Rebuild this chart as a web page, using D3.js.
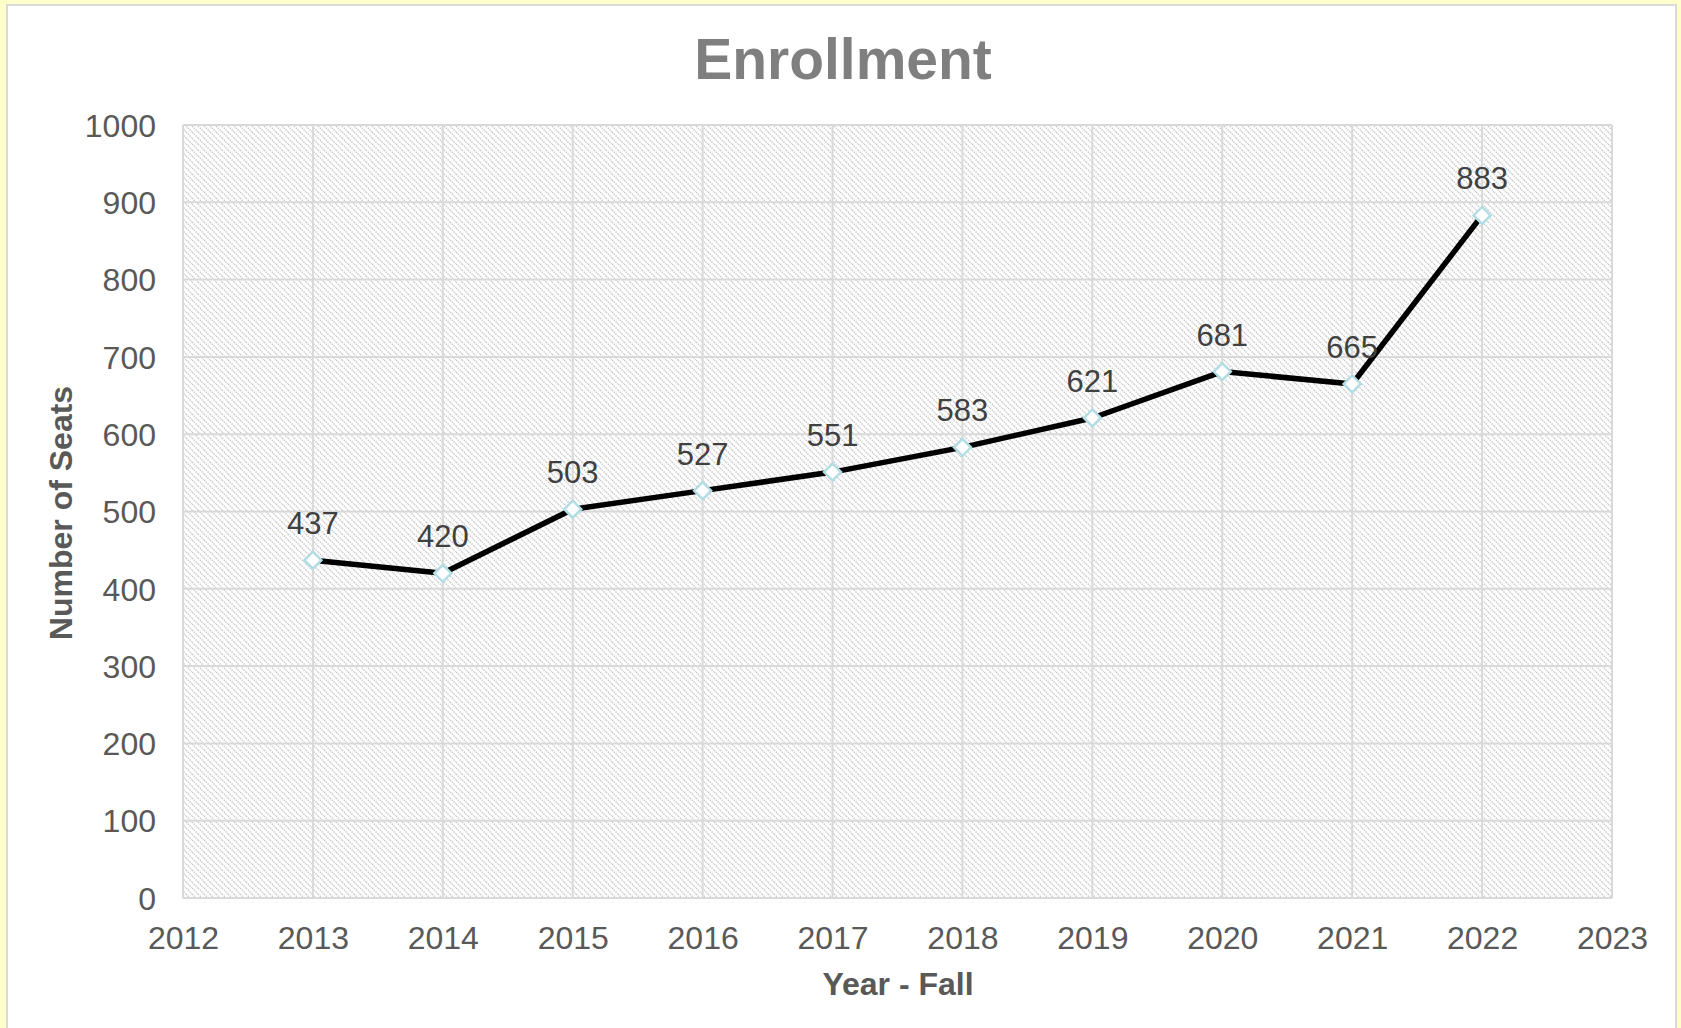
<!DOCTYPE html>
<html>
<head>
<meta charset="utf-8">
<script src="https://cdn.jsdelivr.net/npm/d3@7"></script>
<style>
  html, body { margin: 0; padding: 0; background: #ffffcc; overflow: hidden; }
  text { font-family: "Liberation Sans", Arial, sans-serif; }
</style>
</head>
<body>
<div id="container"></div>
<script>
var years = [2013, 2014, 2015, 2016, 2017, 2018, 2019, 2020, 2021, 2022];
var seats = [437, 420, 503, 527, 551, 583, 621, 681, 665, 883];
var xTicks = [2012, 2013, 2014, 2015, 2016, 2017, 2018, 2019, 2020, 2021, 2022, 2023];
var yTicks = [0, 100, 200, 300, 400, 500, 600, 700, 800, 900, 1000];

var width = 1681, height = 1028;
var margin = {left: 183, right: 69, top: 125, bottom: 130};

var svg = d3.select("#container").append("svg")
    .attr("width", width)
    .attr("height", height);

// hatch pattern for plot area
var defs = svg.append("defs");
var pat = defs.append("pattern")
    .attr("id", "hatch")
    .attr("patternUnits", "userSpaceOnUse")
    .attr("width", 6)
    .attr("height", 6);
pat.append("rect").attr("width", 6).attr("height", 6).attr("fill", "#ffffff");
pat.append("path")
    .attr("d", "M0,0 L6,6 M-1,5 L1,7 M5,-1 L7,1")
    .attr("stroke", "#c8c8c8")
    .attr("stroke-width", 1.4)
    .attr("stroke-dasharray", "1.5,1");

// chart box
svg.append("rect")
    .attr("x", 7).attr("y", 5)
    .attr("width", 1669).attr("height", 1040)
    .attr("fill", "#ffffff")
    .attr("stroke", "#d9d9d9")
    .attr("stroke-width", 2);

var x = d3.scaleLinear().domain([2012, 2023]).range([margin.left, width - margin.right]);
var y = d3.scaleLinear().domain([0, 1000]).range([height - margin.bottom, margin.top]);

svg.append("rect")
    .attr("x", x(2012)).attr("y", y(1000))
    .attr("width", x(2023) - x(2012))
    .attr("height", y(0) - y(1000))
    .attr("fill", "url(#hatch)");

// grid
svg.append("g").selectAll("line")
    .data(yTicks)
    .enter().append("line")
    .attr("x1", x(2012)).attr("x2", x(2023))
    .attr("y1", function(d) { return y(d); })
    .attr("y2", function(d) { return y(d); })
    .attr("stroke", "#d9d9d9")
    .attr("stroke-width", 2);

svg.append("g").selectAll("line")
    .data(xTicks)
    .enter().append("line")
    .attr("x1", function(d) { return x(d); })
    .attr("x2", function(d) { return x(d); })
    .attr("y1", y(0)).attr("y2", y(1000))
    .attr("stroke", "#d9d9d9")
    .attr("stroke-width", 2);

// axes
var yAxis = svg.append("g")
    .attr("transform", "translate(" + (x(2012) - 27) + ",0)")
    .call(d3.axisLeft(y).tickValues(yTicks).tickSize(0).tickPadding(0).tickFormat(d3.format("d")));
yAxis.select(".domain").remove();
yAxis.selectAll("text")
    .attr("font-size", 32)
    .attr("fill", "#595959")
    .attr("dy", "0.35em");

var xAxis = svg.append("g")
    .attr("transform", "translate(0," + y(0) + ")")
    .call(d3.axisBottom(x).tickValues(xTicks).tickSize(0).tickPadding(0).tickFormat(d3.format("d")));
xAxis.select(".domain").remove();
xAxis.selectAll("text")
    .attr("font-size", 32)
    .attr("fill", "#595959")
    .attr("y", 51)
    .attr("dy", 0);

// line
var line = d3.line()
    .x(function(d, i) { return x(years[i]); })
    .y(function(d) { return y(d); });

svg.append("path")
    .datum(seats)
    .attr("d", line)
    .attr("fill", "none")
    .attr("stroke", "#000000")
    .attr("stroke-width", 5.5)
    .attr("stroke-linejoin", "round");

// markers
svg.append("g").selectAll("path")
    .data(seats)
    .enter().append("path")
    .attr("d", "M0,-8.5 L8.5,0 L0,8.5 L-8.5,0 Z")
    .attr("transform", function(d, i) { return "translate(" + x(years[i]) + "," + y(d) + ")"; })
    .attr("fill", "#ffffff")
    .attr("stroke", "#b3dde4")
    .attr("stroke-width", 2.5);

// data labels
svg.append("g").selectAll("text")
    .data(seats)
    .enter().append("text")
    .attr("x", function(d, i) { return x(years[i]); })
    .attr("y", function(d) { return y(d) - 26; })
    .attr("text-anchor", "middle")
    .attr("font-size", 31)
    .attr("fill", "#404040")
    .text(function(d) { return d; });

// titles
svg.append("text")
    .attr("x", 843).attr("y", 79)
    .attr("text-anchor", "middle")
    .attr("font-size", 57)
    .attr("font-weight", "bold")
    .attr("fill", "#7f7f7f")
    .text("Enrollment");

svg.append("text")
    .attr("x", 898).attr("y", 995)
    .attr("text-anchor", "middle")
    .attr("font-size", 32)
    .attr("font-weight", "bold")
    .attr("fill", "#595959")
    .text("Year - Fall");

svg.append("text")
    .attr("transform", "translate(72," + 513 + ") rotate(-90)")
    .attr("text-anchor", "middle")
    .attr("font-size", 32)
    .attr("font-weight", "bold")
    .attr("fill", "#595959")
    .text("Number of Seats");
</script>
</body>
</html>
